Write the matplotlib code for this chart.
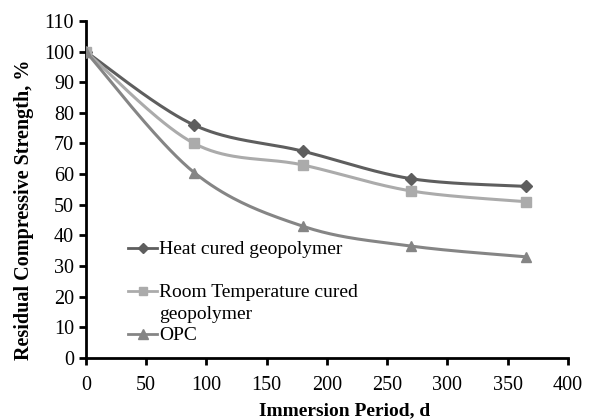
import numpy as np
import matplotlib
matplotlib.use("Agg")
import matplotlib.pyplot as plt
from matplotlib.lines import Line2D

plt.rcParams['font.family'] = ['Liberation Serif', 'DejaVu Serif']

days = [0, 90, 180, 270, 365]
heat_cured = [100, 76, 67.5, 58.5, 56]
room_cured = [100, 70, 63, 54.5, 51]
opc = [100, 60.5, 43, 36.5, 33]

labels = ["Heat cured geopolymer", "Room Temperature cured", "OPC"]


def smooth(x, y, n=40):
    """Excel-style smoothed line: Bezier segments with Catmull-Rom controls."""
    p = np.column_stack([x, y]).astype(float)
    pts = [p[0]]
    for i in range(len(p) - 1):
        p0 = p[i - 1] if i > 0 else p[i]
        p1, p2 = p[i], p[i + 1]
        p3 = p[i + 2] if i + 2 < len(p) else p[i + 1]
        c1 = p1 + (p2 - p0) / 6
        c2 = p2 - (p3 - p1) / 6
        t = np.linspace(0, 1, n)[1:, None]
        seg = ((1 - t) ** 3) * p1 + 3 * ((1 - t) ** 2) * t * c1 \
            + 3 * (1 - t) * t ** 2 * c2 + t ** 3 * p2
        pts.extend(seg)
    pts = np.array(pts)
    return pts[:, 0], pts[:, 1]


fig = plt.figure(figsize=(6.04, 4.2), dpi=100)
ax = fig.add_axes([0.142, 0.148, 0.798, 0.802])

styles = [
    (heat_cured, '#5e5e5e', 'D', 6),
    (room_cured, '#ababab', 's', 7),
    (opc, '#858585', '^', 7.5),
]
handles = []
for (vals, col, mk, ms), lab in zip(styles, labels):
    sx, sy = smooth(days, vals)
    ax.plot(sx, sy, color=col, lw=2.2, zorder=2)
    ax.plot(days, vals, ls='none', marker=mk, ms=ms, color=col, zorder=3)
    h, = ax.plot([], [], color=col, lw=2, marker=mk, ms=ms - 1, label=lab)
    handles.append(h)

# legend rows: blank rows keep Excel's wrapped-label spacing
blank = Line2D([], [], color='none')
leg_handles = [handles[0], blank, handles[1], blank, handles[2]]
leg_labels = [labels[0], "", labels[1], "geopolymer", labels[2]]

ax.set_xlim(0, 400)
ax.set_ylim(0, 110)
ax.set_xticks(np.arange(0, 401, 50))
ax.set_yticks(np.arange(0, 111, 10))
ax.tick_params(labelsize=14.5, width=2, length=5, direction='out', colors='black')
ax.tick_params(axis='x', pad=8)
for s in ['top', 'right']:
    ax.spines[s].set_visible(False)
for s in ['left', 'bottom']:
    ax.spines[s].set_linewidth(2)

ax.set_xlabel("Immersion Period, d", fontsize=14, fontweight='bold')
ax.xaxis.set_label_coords(0.537, -0.132)
ax.set_ylabel("Residual Compressive Strength, %", fontsize=14.5, fontweight='bold')
ax.yaxis.set_label_coords(-0.108, 0.44)

ax.legend(leg_handles, leg_labels, loc='lower left', bbox_to_anchor=(0.088, 0.04),
          frameon=False, fontsize=14, handlelength=1.5, handletextpad=0.1,
          labelspacing=0.2, borderaxespad=0.0, borderpad=0.0)

fig.savefig("out.png", dpi=100)
